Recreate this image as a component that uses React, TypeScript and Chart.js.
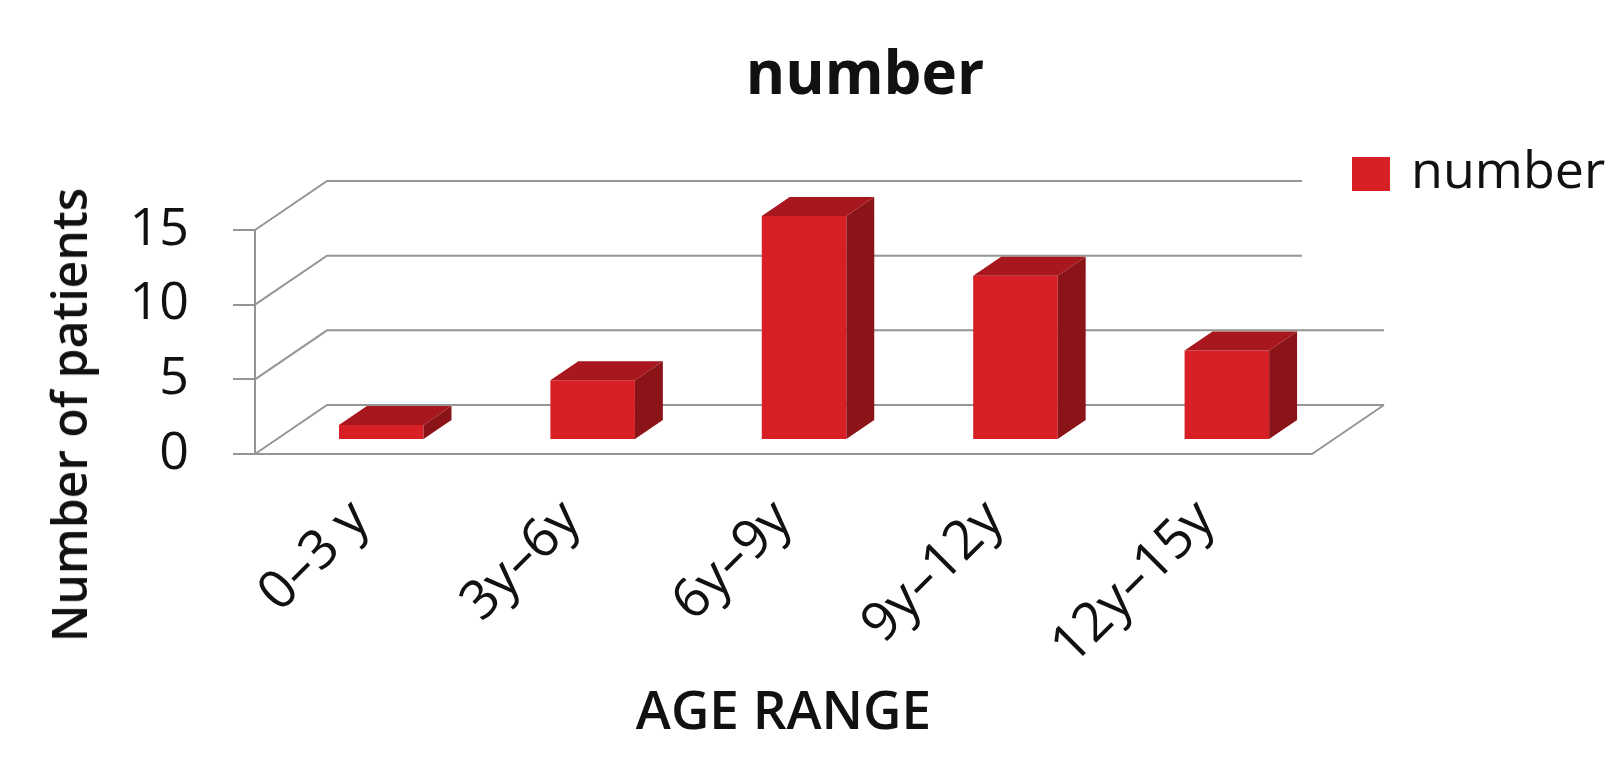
import React, { useEffect, useRef } from "react";
import { Chart, registerables } from "chart.js";

Chart.register(...registerables);

// ---- data ----
const categories = ["0–3 y", "3y–6y", "6y–9y", "9y–12y", "12y–15y"];
const patientCounts = [1, 4, 15, 11, 6];
const yTicks = [0, 5, 10, 15];
const seriesName = "number";
const chartTitle = "number";
const xAxisTitle = "AGE RANGE";
const yAxisTitle = "Number of patients";

// ---- styles ----
const FONT = "'Open Sans', 'Noto Sans', sans-serif";
const TEXT = "#111111";
const FRONT = "#d91f26";
const TOP = "#a8171d";
const SIDE = "#8b1419";
const GRID = "#959595";
const WALL_DX = 72;
const WALL_DY = -49;
const BAR_FRONT_F = 14 / 49;
const BAR_DEPTH_F = 19 / 49;

const threeD = {
  id: "threeD",
  beforeDatasetsDraw(chart: any) {
    const { ctx, chartArea: a } = chart;
    const y = chart.scales.y;
    ctx.save();
    ctx.strokeStyle = GRID;
    ctx.lineWidth = 2;
    for (const v of yTicks) {
      const py = y.getPixelForValue(v);
      ctx.beginPath();
      ctx.moveTo(a.left, py);
      ctx.lineTo(a.left + WALL_DX, py + WALL_DY);
      ctx.lineTo(a.right + WALL_DX, py + WALL_DY);
      ctx.stroke();
    }
    const p0 = y.getPixelForValue(0);
    ctx.beginPath();
    ctx.moveTo(a.right, p0);
    ctx.lineTo(a.right + WALL_DX, p0 + WALL_DY);
    ctx.stroke();
    ctx.restore();
    ctx.save();
    ctx.translate(WALL_DX * BAR_FRONT_F, WALL_DY * BAR_FRONT_F);
  },
  afterDatasetsDraw(chart: any) {
    const { ctx } = chart;
    ctx.restore();
    const ox = WALL_DX * BAR_FRONT_F;
    const oy = WALL_DY * BAR_FRONT_F;
    const dx = WALL_DX * BAR_DEPTH_F;
    const dy = WALL_DY * BAR_DEPTH_F;
    const meta = chart.getDatasetMeta(0);
    ctx.save();
    meta.data.forEach((bar: any) => {
      const { x, y, base, width } = bar.getProps(["x", "y", "base", "width"], true);
      const l = x - width / 2 + ox;
      const r = x + width / 2 + ox;
      const t = y + oy;
      const b = base + oy;
      ctx.fillStyle = TOP;
      ctx.beginPath();
      ctx.moveTo(l, t);
      ctx.lineTo(l + dx, t + dy);
      ctx.lineTo(r + dx, t + dy);
      ctx.lineTo(r, t);
      ctx.closePath();
      ctx.fill();
      ctx.fillStyle = SIDE;
      ctx.beginPath();
      ctx.moveTo(r, t);
      ctx.lineTo(r + dx, t + dy);
      ctx.lineTo(r + dx, b + dy);
      ctx.lineTo(r, b);
      ctx.closePath();
      ctx.fill();
    });
    ctx.restore();
  },
};

export default function App() {
  const ref = useRef<HTMLCanvasElement | null>(null);

  useEffect(() => {
    if (!ref.current) return;
    const chart = new Chart(ref.current, {
      type: "bar",
      data: {
        labels: categories,
        datasets: [
          {
            label: seriesName,
            data: patientCounts,
            backgroundColor: FRONT,
            borderWidth: 0,
            barPercentage: 0.4,
            categoryPercentage: 1,
            clip: false as any,
          },
        ],
      },
      options: {
        responsive: true,
        maintainAspectRatio: false,
        animation: false,
        layout: { padding: { left: 42, top: 230, right: 302, bottom: 0 } },
        plugins: {
          legend: { display: false },
          title: { display: false },
          tooltip: { enabled: false },
        },
        scales: {
          x: {
            grid: { display: false, drawTicks: false },
            border: { display: true, color: GRID, width: 2 },
            ticks: {
              autoSkip: false,
              maxRotation: 45,
              minRotation: 45,
              padding: 34,
              color: TEXT,
              font: { family: FONT, size: 54 },
            },
            title: {
              display: true,
              text: xAxisTitle,
              color: TEXT,
              font: { family: FONT, size: 53, weight: "600" },
              padding: { top: 0, bottom: 21 },
            },
            afterFit: (s: any) => {
              s.height = 313;
            },
          },
          y: {
            min: 0,
            max: 15,
            ticks: {
              stepSize: 5,
              padding: 44,
              color: TEXT,
              font: { family: FONT, size: 52 },
            },
            grid: {
              drawOnChartArea: false,
              drawTicks: true,
              tickLength: 22,
              color: GRID,
              lineWidth: 2,
            },
            border: { display: true, color: GRID, width: 2 },
            afterFit: (s: any) => {
              s.width = 213;
            },
          },
        },
      },
      plugins: [threeD],
    });
    return () => chart.destroy();
  }, []);

  return (
    <div
      style={{
        position: "fixed",
        left: 0,
        top: 0,
        width: 1614,
        height: 767,
        background: "#fff",
        overflow: "hidden",
      }}
    >
      <div style={{ position: "absolute", left: 0, top: 0, width: 1614, height: 767 }}>
        <canvas ref={ref} />
      </div>
      <div
        style={{
          position: "absolute",
          left: 865,
          top: 41,
          transform: "translateX(-50%)",
          fontFamily: FONT,
          fontWeight: 700,
          fontSize: 60,
          lineHeight: "60px",
          color: TEXT,
          whiteSpace: "nowrap",
        }}
      >
        {chartTitle}
      </div>
      <div
        style={{
          position: "absolute",
          left: 69,
          top: 415,
          transform: "translate(-50%, -50%) rotate(-90deg)",
          fontFamily: FONT,
          fontWeight: 600,
          fontSize: 48,
          lineHeight: "48px",
          color: TEXT,
          whiteSpace: "nowrap",
        }}
      >
        {yAxisTitle}
      </div>
      <div
        style={{
          position: "absolute",
          left: 1302,
          top: 118,
          width: 312,
          height: 180,
          background: "#fff",
        }}
      >
        <div
          style={{
            position: "absolute",
            left: 50,
            top: 39,
            width: 38,
            height: 34,
            background: FRONT,
          }}
        />
        <div
          style={{
            position: "absolute",
            left: 109,
            top: 24,
            fontFamily: FONT,
            fontSize: 52,
            lineHeight: "52px",
            color: TEXT,
            whiteSpace: "nowrap",
          }}
        >
          {seriesName}
        </div>
      </div>
    </div>
  );
}
